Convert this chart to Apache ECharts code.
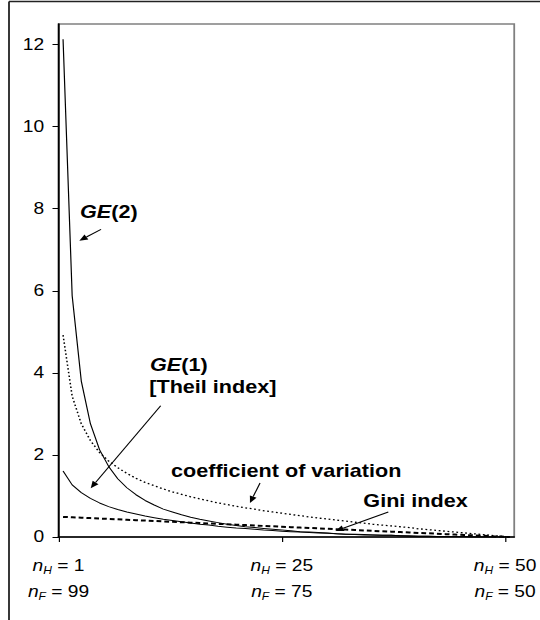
<!DOCTYPE html>
<html>
<head>
<meta charset="utf-8">
<script src="https://cdn.jsdelivr.net/npm/echarts@6.0.0/dist/echarts.min.js"></script>
<style>
  html, body { margin: 0; padding: 0; background: #fff; overflow: hidden; }
  /* the reference is drawn 450 wide and stretched to 540 */
  #chart { width: 450px; height: 620px; transform: scaleX(1.2); transform-origin: 0 0; }
</style>
</head>
<body>
<div id="chart"></div>
<script>
const FONT = "'Liberation Sans', Arial, sans-serif";

// n_H = 1 .. 50 (n_F = 100 - n_H)
const nH = [
  1, 2, 3, 4, 5, 6, 7, 8, 9, 10,
  11, 12, 13, 14, 15, 16, 17, 18, 19, 20,
  21, 22, 23, 24, 25, 26, 27, 28, 29, 30,
  31, 32, 33, 34, 35, 36, 37, 38, 39, 40,
  41, 42, 43, 44, 45, 46, 47, 48, 49, 50
];

const ge2 = [
  12.13, 5.88, 3.80, 2.76, 2.13, 1.72, 1.42, 1.20, 1.03, 0.89,
  0.78, 0.68, 0.61, 0.54, 0.48, 0.43, 0.39, 0.35, 0.31, 0.28,
  0.25, 0.23, 0.21, 0.19, 0.17, 0.15, 0.13, 0.12, 0.11, 0.10,
  0.08, 0.07, 0.07, 0.06, 0.05, 0.04, 0.04, 0.03, 0.03, 0.02,
  0.02, 0.01, 0.01, 0.01, 0.01, 0, 0, 0, 0, 0
];

const cv = [
  4.92, 3.43, 2.76, 2.35, 2.06, 1.85, 1.69, 1.55, 1.43, 1.33,
  1.25, 1.17, 1.10, 1.04, 0.98, 0.93, 0.88, 0.83, 0.79, 0.75,
  0.71, 0.68, 0.64, 0.61, 0.58, 0.55, 0.52, 0.49, 0.46, 0.44,
  0.41, 0.39, 0.36, 0.34, 0.31, 0.29, 0.27, 0.25, 0.23, 0.20,
  0.18, 0.16, 0.14, 0.12, 0.10, 0.08, 0.06, 0.04, 0.02, 0
];

const ge1 = [
  1.61, 1.27, 1.08, 0.94, 0.83, 0.74, 0.67, 0.61, 0.56, 0.51,
  0.47, 0.43, 0.40, 0.37, 0.34, 0.31, 0.29, 0.26, 0.24, 0.22,
  0.21, 0.19, 0.17, 0.16, 0.14, 0.13, 0.12, 0.11, 0.10, 0.09,
  0.08, 0.07, 0.06, 0.05, 0.05, 0.04, 0.04, 0.03, 0.02, 0.02,
  0.02, 0.01, 0.01, 0.01, 0.01, 0, 0, 0, 0, 0
];

const gini = [
  0.49, 0.48, 0.47, 0.46, 0.45, 0.44, 0.43, 0.42, 0.41, 0.40,
  0.39, 0.38, 0.37, 0.36, 0.35, 0.34, 0.33, 0.32, 0.31, 0.30,
  0.29, 0.28, 0.27, 0.26, 0.25, 0.24, 0.23, 0.22, 0.21, 0.20,
  0.19, 0.18, 0.17, 0.16, 0.15, 0.14, 0.13, 0.12, 0.11, 0.10,
  0.09, 0.08, 0.07, 0.06, 0.05, 0.04, 0.03, 0.02, 0.01, 0
];

const yTicks = [0, 2, 4, 6, 8, 10, 12];
const xTicks = [0.5, 25, 49.5];
const xTickH = ["1", "25", "50"];
const xTickF = ["99", "75", "50"];

function pairs(ys) {
  return nH.map((n, i) => [n, ys[i]]);
}

function arrow(x1, y1, x2, y2) {
  const dx = x2 - x1, dy = y2 - y1, len = Math.hypot(dx, dy);
  const ux = dx / len, uy = dy / len, h = 7, w = 3;
  const bx = x2 - ux * h, by = y2 - uy * h;
  return [
    { type: "line", shape: { x1: x1, y1: y1, x2: bx, y2: by }, style: { stroke: "#000", lineWidth: 1 } },
    {
      type: "polygon",
      shape: { points: [[x2, y2], [bx - uy * w, by + ux * w], [bx + uy * w, by - ux * w]] },
      style: { fill: "#000" },
    },
  ];
}

function note(x, y, text, rich) {
  return {
    type: "text",
    x: x,
    y: y,
    style: {
      text: text,
      rich: rich,
      fontFamily: FONT,
      fontSize: 18,
      fontWeight: "bold",
      fill: "#000",
      verticalAlign: "middle",
    },
  };
}

const boldItalic = {
  i: { fontFamily: FONT, fontSize: 18, fontWeight: "bold", fontStyle: "italic", fill: "#000" },
  b: { fontFamily: FONT, fontSize: 18, fontWeight: "bold", fill: "#000" },
};

const chart = echarts.init(document.getElementById("chart"), null, { renderer: "svg" });

chart.setOption({
  animation: false,
  grid: {
    left: 48.75,
    right: 20.25,
    top: 24,
    bottom: 83,
    show: true,
    borderColor: "#808080",
    borderWidth: 1.5,
  },
  xAxis: {
    type: "value",
    min: 0.5,
    max: 50.5,
    splitLine: { show: false },
    axisLine: { lineStyle: { color: "#000", width: 1.5 } },
    axisTick: { customValues: xTicks, length: 5, lineStyle: { color: "#000" } },
    axisLabel: {
      customValues: xTicks,
      margin: 16,
      color: "#000",
      fontFamily: FONT,
      formatter: (v) => {
        const i = xTicks.indexOf(v);
        return "{n|n}{s|H}{t| = " + xTickH[i] + "}\n{n|n}{s|F}{t| = " + xTickF[i] + "}";
      },
      rich: {
        n: { fontFamily: FONT, fontSize: 16, fontStyle: "italic", color: "#000", lineHeight: 26 },
        s: { fontFamily: FONT, fontSize: 10, fontStyle: "italic", color: "#000", lineHeight: 12, padding: [9, 0, 0, 0] },
        t: { fontFamily: FONT, fontSize: 16, color: "#000", lineHeight: 26 },
      },
    },
  },
  yAxis: {
    type: "value",
    min: 0,
    max: 12.5,
    splitLine: { show: false },
    axisLine: { show: true, lineStyle: { color: "#000", width: 1.5 } },
    axisTick: { show: true, customValues: yTicks, length: 5, lineStyle: { color: "#000" } },
    axisLabel: { customValues: yTicks, margin: 12, color: "#000", fontSize: 16, fontFamily: FONT },
  },
  series: [
    {
      name: "GE(2)",
      type: "line",
      data: pairs(ge2),
      showSymbol: false,
      lineStyle: { color: "#000", width: 1 },
    },
    {
      name: "coefficient of variation",
      type: "line",
      data: pairs(cv),
      showSymbol: false,
      lineStyle: { color: "#000", width: 1.3, type: [1.5, 2.2] },
    },
    {
      name: "GE(1)",
      type: "line",
      data: pairs(ge1),
      showSymbol: false,
      lineStyle: { color: "#000", width: 1 },
    },
    {
      name: "Gini index",
      type: "line",
      data: pairs(gini),
      showSymbol: false,
      lineStyle: { color: "#000", width: 2, type: [4, 2.5] },
    },
  ],
  graphic: [
    // outer frame
    { type: "line", shape: { x1: 7.5, y1: 1.5, x2: 450, y2: 1.5 }, style: { stroke: "#222", lineWidth: 1.5 } },
    { type: "line", shape: { x1: 7.5, y1: 1.5, x2: 7.5, y2: 620 }, style: { stroke: "#222", lineWidth: 1.5 } },
    note(66.7, 212, "{i|GE}{b|(2)}", boldItalic),
    note(125, 365, "{i|GE}{b|(1)}", boldItalic),
    note(124.4, 387, "[Theil index]"),
    note(142.5, 471, "coefficient of variation"),
    note(302.8, 500.5, "Gini index"),
    ...arrow(84.2, 229.3, 66.1, 240.7),
    ...arrow(133.9, 405.7, 75.6, 488.3),
    ...arrow(216.7, 483, 208.3, 503),
    ...arrow(323.6, 512, 279.5, 531),
  ],
});
</script>
</body>
</html>
